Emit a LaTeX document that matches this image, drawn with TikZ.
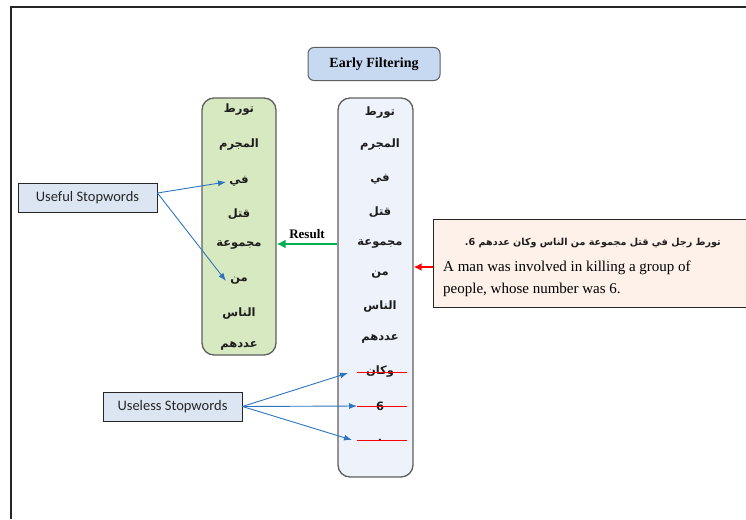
\documentclass[tikz,border=0pt]{standalone}
\usepackage{fontspec}
\setmainfont{Liberation Serif}
\newfontfamily\arabicfont[Script=Arabic]{DejaVu Sans}
\newfontfamily\calibrifont{Carlito}
\TeXXeTstate=1
\usetikzlibrary{arrows.meta,calc}

\definecolor{titlefill}{RGB}{198,217,241}
\definecolor{midfill}{RGB}{238,242,250}
\definecolor{greenfill}{RGB}{215,233,193}
\definecolor{sentfill}{RGB}{253,241,233}
\definecolor{tagfill}{RGB}{220,230,242}
\definecolor{panelborder}{RGB}{95,95,95}
\definecolor{arrowblue}{RGB}{46,117,190}
\definecolor{resultgreen}{RGB}{0,176,80}
\definecolor{wordgray}{RGB}{30,30,30}

\tikzset{
  panel/.style={draw=panelborder, line width=1.3pt, rounded corners=12pt, inner sep=0pt},
  arword/.style={font=\arabicfont\bfseries\fontsize{11.5}{13}\selectfont, text=wordgray, inner sep=1pt},
  tagbox/.style={draw=black!85, fill=tagfill, line width=0.9pt, inner sep=0pt,
    minimum width=139pt, minimum height=29pt, font=\calibrifont\fontsize{14.5}{16}\selectfont, text=black!85},
  bluearrow/.style={draw=arrowblue, line width=0.9pt, -{Latex[length=8pt,width=6pt]}},
  strike/.style={draw=red, line width=0.9pt},
}

\begin{document}
\begin{tikzpicture}[x=1pt,y=-1pt]
\useasboundingbox (0,0) rectangle (746,519);
\clip (0,0) rectangle (746,519);

% page frame
\draw[line width=1.5pt, draw=black!85] (11,519) -- (11,7) -- (746,7);

% title
\node[draw=panelborder, fill=titlefill, line width=1pt, rounded corners=6pt,
      minimum width=132pt, minimum height=33pt, inner sep=0pt,
      font=\bfseries\fontsize{14}{16}\selectfont] (title) at (374,64) {Early Filtering};

% panels
\node[panel, fill=midfill, minimum width=75pt, minimum height=379pt] (mid) at (375.5,287.5) {};
\node[panel, fill=greenfill, minimum width=74pt, minimum height=257pt] (green) at (239,226.5) {};

% words of the input sentence
\foreach \w/\y [count=\i] in {تورط/113, المجرم/145, في/179, قتل/212, مجموعة/244, من/275, الناس/307, عددهم/339, وكان/372, 6/406, ./440}
  \node[arword] (m\i) at (380,\y) {\beginR\w\endR};

% words kept after filtering
\foreach \w/\y [count=\i] in {تورط/110, المجرم/145, في/181, قتل/214, مجموعة/245, من/281, الناس/314, عددهم/346}
  \node[arword] (g\i) at (239,\y) {\beginR\w\endR};

% struck-out stopwords
\foreach \i in {9,10,11}
  \draw[strike] ($(m\i.center)+(-23,0)$) -- ($(m\i.center)+(27,0)$);

% result arrow
\draw[draw=resultgreen, line width=2.4pt, -{Latex[length=9pt,width=9pt]}]
  (mid.west |- m5) -- node[above=1pt, font=\bfseries\fontsize{13}{15}\selectfont, text=black] (reslabel) {Result} (green.east |- m5);

% sentence box
\node[draw=black!85, fill=sentfill, line width=1pt, minimum width=330pt, minimum height=88pt, inner sep=0pt] (sent) at (598,263) {};
\node[anchor=base east, font=\arabicfont\bfseries\fontsize{9.6}{12}\selectfont, text=wordgray, inner sep=0pt] (sarab) at (721,245)
  {\beginR تورط رجل في قتل مجموعة من الناس وكان عددهم 6.\endR};
\node[anchor=base west, font=\fontsize{15}{18}\selectfont, inner sep=0pt] (eng1) at (443,271) {A man was involved in killing a group of};
\node[anchor=base west, font=\fontsize{15}{18}\selectfont, inner sep=0pt] (eng2) at (443,293) {people, whose number was 6.};

% input arrow
\coordinate (rtail) at ([yshift=-4pt]sent.west);
\draw[draw=red, line width=1.8pt, -{Latex[length=8pt,width=8pt]}] (rtail) -- (rtail -| mid.east);

% stopword labels
\node[tagbox] (useful) at (87.5,198) {Useful Stopwords};
\node[tagbox] (useless) at (172.5,406.5) {Useless Stopwords};

\draw[bluearrow] ([yshift=5pt]useful.east) -- ($(g3.center)+(-13,1)$);
\draw[bluearrow] ([yshift=5pt]useful.east) -- ($(g6.center)+(-13,0)$);

\draw[bluearrow] (useless.east) -- ($(m9.center)+(-32,1)$);
\draw[bluearrow] (useless.east) -- ($(m10.center)+(-23,0)$);
\draw[bluearrow] (useless.east) -- ($(m11.center)+(-28,0)$);
\end{tikzpicture}
\end{document}
